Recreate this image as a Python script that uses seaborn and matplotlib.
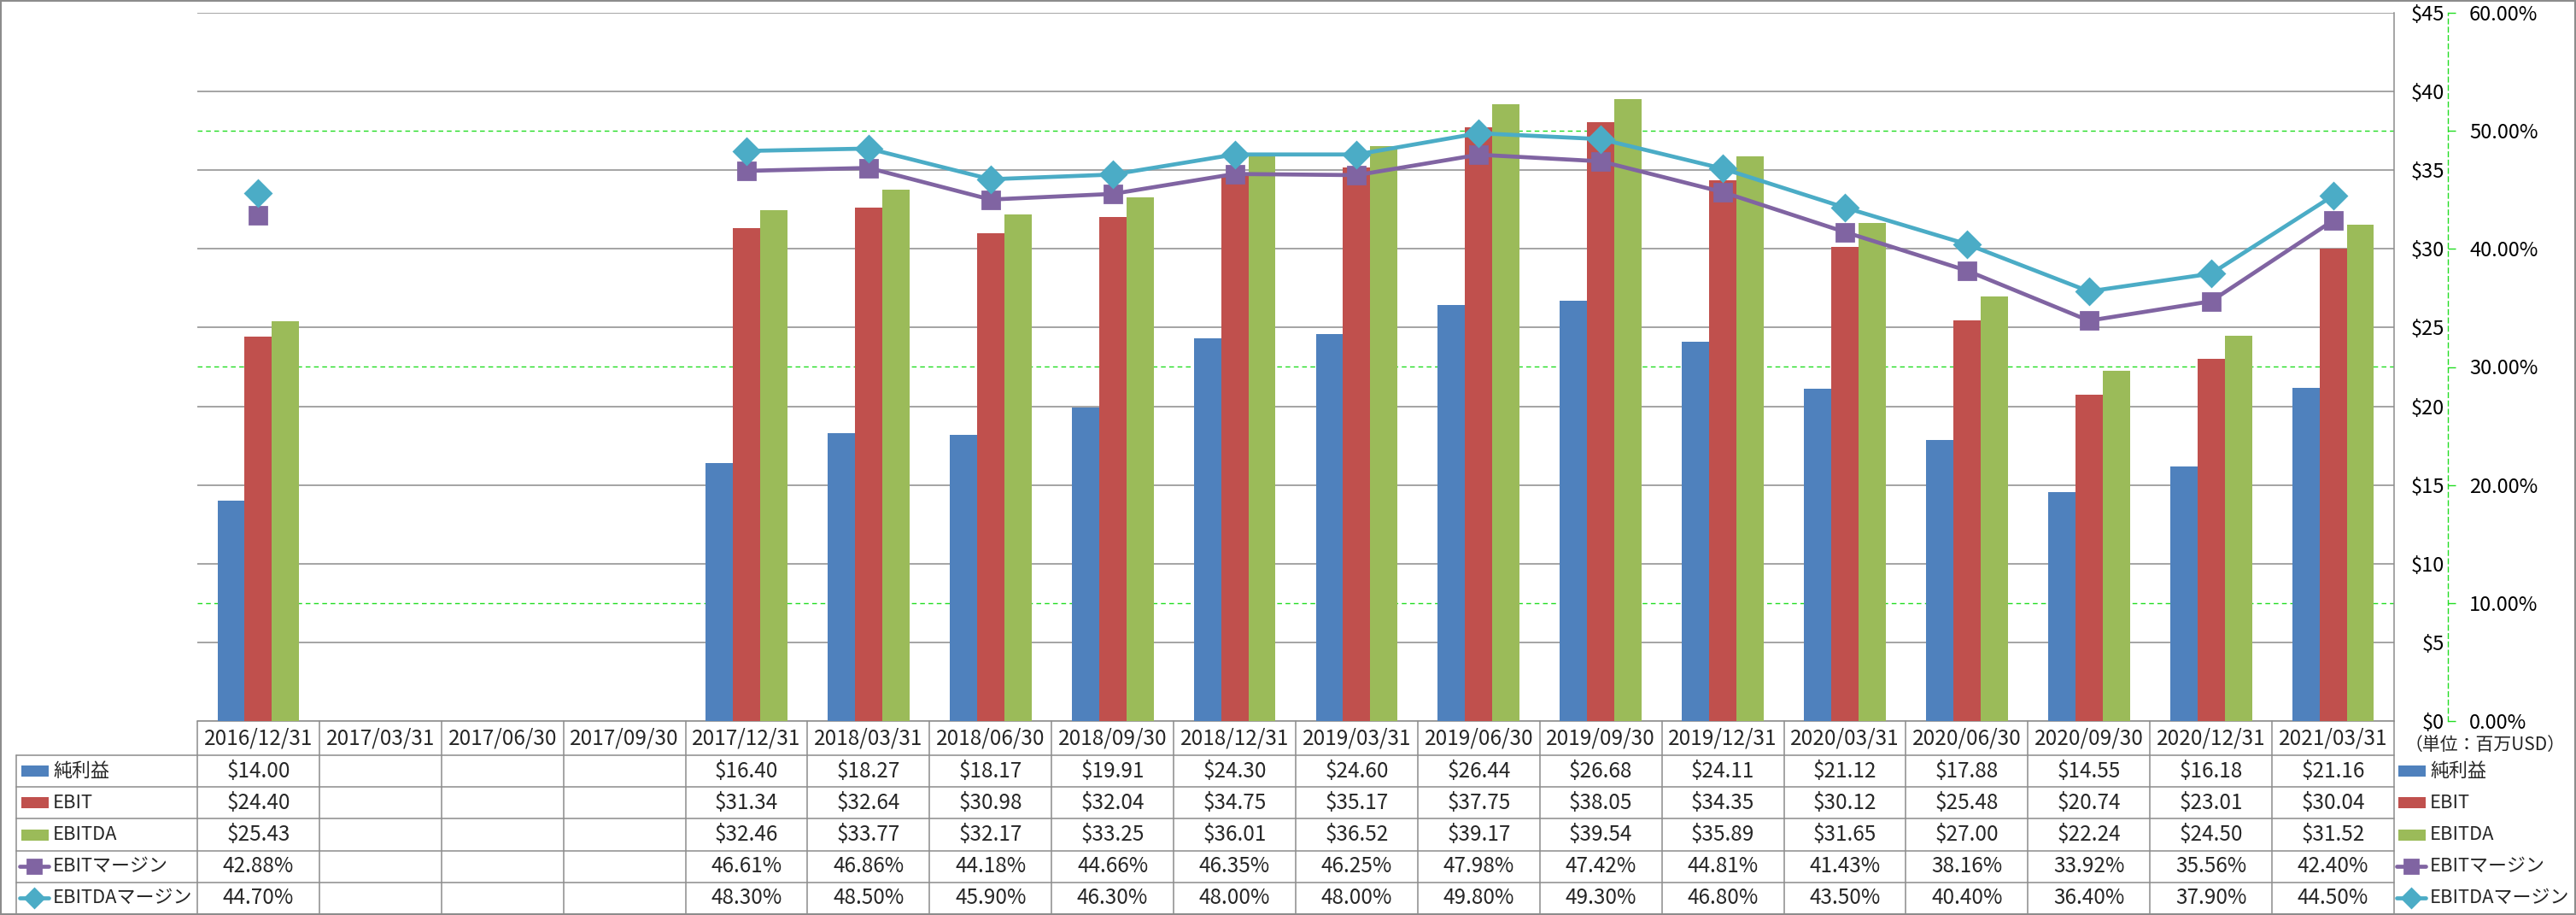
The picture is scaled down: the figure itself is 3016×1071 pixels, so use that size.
import numpy as np
import pandas as pd
import matplotlib
import matplotlib.pyplot as plt
import seaborn as sns
from matplotlib.patches import Rectangle
from matplotlib.lines import Line2D
from matplotlib.ticker import StrMethodFormatter, PercentFormatter, FixedLocator

matplotlib.use("Agg")

dates = ["2016/12/31", "2017/03/31", "2017/06/30", "2017/09/30", "2017/12/31",
         "2018/03/31", "2018/06/30", "2018/09/30", "2018/12/31", "2019/03/31",
         "2019/06/30", "2019/09/30", "2019/12/31", "2020/03/31", "2020/06/30",
         "2020/09/30", "2020/12/31", "2021/03/31"]
net_income = [14.00, None, None, None, 16.40, 18.27, 18.17, 19.91, 24.30, 24.60,
              26.44, 26.68, 24.11, 21.12, 17.88, 14.55, 16.18, 21.16]
ebit = [24.40, None, None, None, 31.34, 32.64, 30.98, 32.04, 34.75, 35.17,
        37.75, 38.05, 34.35, 30.12, 25.48, 20.74, 23.01, 30.04]
ebitda = [25.43, None, None, None, 32.46, 33.77, 32.17, 33.25, 36.01, 36.52,
          39.17, 39.54, 35.89, 31.65, 27.00, 22.24, 24.50, 31.52]
ebit_margin = [42.88, None, None, None, 46.61, 46.86, 44.18, 44.66, 46.35, 46.25,
               47.98, 47.42, 44.81, 41.43, 38.16, 33.92, 35.56, 42.40]
ebitda_margin = [44.70, None, None, None, 48.30, 48.50, 45.90, 46.30, 48.00, 48.00,
                 49.80, 49.30, 46.80, 43.50, 40.40, 36.40, 37.90, 44.50]

bar_names = ["純利益", "EBIT", "EBITDA"]
line_names = ["EBITマージン", "EBITDAマージン"]
bar_colors = ["#4F81BD", "#C0504D", "#9BBB59"]
line_colors = ["#8064A2", "#4BACC6"]
line_markers = ["s", "D"]

usd_max = 45
pct_max = 0.60

sns.set_theme(style="white")
plt.rcParams["font.family"] = ["Noto Sans CJK JP", "DejaVu Sans"]

W, H = 3016, 1071
fig = plt.figure(figsize=(W / 100, H / 100), dpi=100)

# pixel layout of the Excel-like chart
left, right, top, base = 231, 2803, 15, 844
axis_x = 2866
row_edges = np.linspace(884, 1070, 6)
txt_size = 17.5
label_size = 15.8

tab = fig.add_axes([0, 0, 1, 1], zorder=0)
tab.set_xlim(0, W)
tab.set_ylim(H, 0)
tab.axis("off")

ax = fig.add_axes([left / W, (H - base) / H, (right - left) / W, (base - top) / H], zorder=1)
ax.patch.set_alpha(0)

# --- bars ---
rows = []
for name, vals in zip(bar_names, [net_income, ebit, ebitda]):
    for d, v in zip(dates, vals):
        if v is not None:
            rows.append({"date": d, "series": name, "value": v})
bars = pd.DataFrame(rows)
sns.barplot(data=bars, x="date", y="value", hue="series", order=dates,
            hue_order=bar_names, palette=bar_colors, saturation=1, width=0.67,
            errorbar=None, linewidth=0, legend=False, ax=ax)

ax.set_xlim(-0.5, len(dates) - 0.5)
ax.set_ylim(0, usd_max)
ax.set_xlabel("")
ax.set_ylabel("")
ax.set_xticks([])
ax.set_yticks(np.arange(0, usd_max + 1, 5))
# secondary-axis gridlines (every 10%) drawn in the $ scale
ax.yaxis.set_minor_locator(FixedLocator(np.arange(0, pct_max + 0.01, 0.1) * usd_max / pct_max))
ax.yaxis.set_major_formatter(StrMethodFormatter("${x:.0f}"))
ax.set_axisbelow(True)
ax.grid(axis="y", which="major", color="#8C8C8C", linewidth=1.1)
ax.grid(axis="y", which="minor", color="#22DD22", linewidth=1.0, linestyle=(0, (4, 3)))
for s in ["top", "bottom", "left"]:
    ax.spines[s].set_visible(False)
ax.spines["right"].set_color("#8C8C8C")
ax.spines["right"].set_linewidth(1.1)
spine_frac = 1 + (axis_x - right) / (right - left)
ax.spines["left"].set_position(("axes", spine_frac))
ax.tick_params(axis="y", which="both", length=0, pad=3, labelsize=17, labelcolor="black")

# --- margin lines ---
ax2 = ax.twinx()
pos = np.arange(len(dates))
for name, vals, col, mk in zip(line_names, [ebit_margin, ebitda_margin], line_colors, line_markers):
    y = np.array([np.nan if v is None else v / 100 for v in vals])
    ax2.plot(pos, y, color=col, linewidth=3.4, marker=mk, markersize=15,
             markeredgewidth=2, markeredgecolor=col, solid_joinstyle="round")
ax2.set_ylim(0, pct_max)
ax2.set_yticks(np.arange(0, pct_max + 0.01, 0.1))
ax2.yaxis.set_major_formatter(PercentFormatter(xmax=1, decimals=2))
for s in ["top", "bottom", "left"]:
    ax2.spines[s].set_visible(False)
ax2.spines["right"].set_position(("axes", spine_frac))
ax2.spines["right"].set_color("#22DD22")
ax2.spines["right"].set_linestyle((0, (4, 3)))
ax2.spines["right"].set_linewidth(1.0)
ax2.tick_params(axis="y", length=6.5, width=1.0, color="#22DD22", pad=11.5,
                labelsize=17, labelcolor="black")
ax2.grid(False)

# --- data table ---
grid_c = "#8C8C8C"
colw = (right - left) / len(dates)
edges_x = left + colw * np.arange(len(dates) + 1)
tab.plot([left, right], [base, base], color=grid_c, lw=1.1)
for yv in row_edges:
    tab.plot([19, right], [yv, yv], color=grid_c, lw=1.1)
for xv in edges_x:
    tab.plot([xv, xv], [base, row_edges[-1]], color=grid_c, lw=1.1)
tab.plot([19, 19], [row_edges[0], row_edges[-1]], color=grid_c, lw=1.1)

hdr_y = (base + row_edges[0]) / 2
for i, d in enumerate(dates):
    tab.text(edges_x[i] + colw / 2, hdr_y, d, ha="center", va="center", fontsize=txt_size)

row_vals = [net_income, ebit, ebitda, ebit_margin, ebitda_margin]
row_fmt = ["${:.2f}", "${:.2f}", "${:.2f}", "{:.2f}%", "{:.2f}%"]
row_names = bar_names + line_names
row_y = (row_edges[:-1] + row_edges[1:]) / 2


def draw_key(k, x0, yc):
    if k < 3:
        tab.add_patch(Rectangle((x0, yc - 6.5), 32, 13, color=bar_colors[k], lw=0))
    else:
        c = line_colors[k - 3]
        tab.add_line(Line2D([x0 - 2, x0 + 32], [yc, yc], color=c, lw=3.4))
        tab.add_line(Line2D([x0 + 15], [yc], color=c, marker=line_markers[k - 3],
                            markersize=11, markeredgewidth=2, markeredgecolor=c))


for k, (name, vals, fmt) in enumerate(zip(row_names, row_vals, row_fmt)):
    yc = row_y[k]
    draw_key(k, 25, yc)
    tab.text(62, yc, name, ha="left", va="center", fontsize=label_size)
    for i, v in enumerate(vals):
        if v is not None:
            tab.text(edges_x[i] + colw / 2, yc, fmt.format(v), ha="center", va="center",
                     fontsize=txt_size)
    # legend at the right of the table
    draw_key(k, 2808, yc)
    tab.text(2845, yc, name, ha="left", va="center", fontsize=label_size)

tab.text(2816, 872, "（単位：百万USD）", ha="left", va="center", fontsize=15, color="#222222")

# outer chart border
tab.add_patch(Rectangle((1, 1), W - 2, H - 2, fill=False, edgecolor=grid_c, lw=1.5))

fig.savefig("out.png", dpi=100)
